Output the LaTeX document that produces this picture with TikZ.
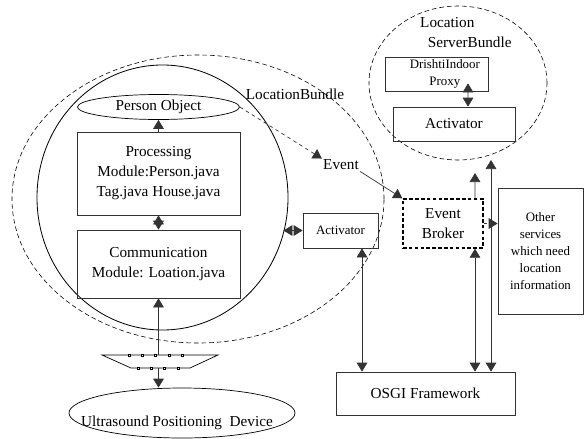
\documentclass[tikz,border=0pt]{standalone}
\usepackage{fontspec}
\setmainfont{Liberation Serif}
\usetikzlibrary{shapes.geometric,arrows.meta}

\begin{document}
\begin{tikzpicture}[x=0.03cm, y=-0.03cm, node distance=1cm, auto]
    % Define block styles
    \tikzstyle{block} = [rectangle, draw=black!80, line width=0.6pt, text centered, align=center, inner sep=0pt, font=\fontsize{13}{17}\selectfont]
    \tikzstyle{smallblock} = [block, font=\fontsize{11}{14.5}\selectfont]
    \tikzstyle{oval} = [ellipse, draw, line width=0.6pt, inner sep=0pt, font=\fontsize{13}{17}\selectfont]
    \tikzstyle{bundle} = [ellipse, draw, dash pattern=on 4pt off 2.5pt, line width=0.5pt]
    \tikzstyle{lbl} = [font=\fontsize{13}{17}\selectfont, inner sep=1pt]
    \tikzstyle{line} = [draw=black!80, line width=0.6pt, -{Triangle[length=0.27cm, width=0.32cm]}]
    \tikzstyle{both} = [line, {Triangle[length=0.27cm, width=0.32cm]}-{Triangle[length=0.27cm, width=0.32cm]}]

    \useasboundingbox (0,0) rectangle (584,438);

    % Bundles
    \node [bundle, minimum width=11.16cm, minimum height=8.64cm] (bundle) at (198,199) {};
    \node [oval, line width=0.7pt, minimum width=7.53cm, minimum height=7.95cm] (ring) at (162.5,197.5) {};
    \node [lbl] (bundlelbl) at (295,94) {LocationBundle};
    \node [bundle, minimum width=5.34cm, minimum height=4.62cm] (server) at (458,83) {};
    \node [lbl, anchor=north west, align=left, inner sep=0pt] (serverlbl) at (420,17) {Location\\\enspace ServerBundle};

    % Place nodes
    \node [block, minimum width=4.89cm, minimum height=2.49cm] (proc) at (158.5,173.5) {Processing\\Module:Person.java\\Tag.java House.java};
    \node [oval, above of=proc, node distance=1.995cm, minimum width=4.86cm, minimum height=0.75cm] (person) {Person Object};
    \node [block, below of=proc, node distance=2.715cm, minimum width=4.89cm, minimum height=2.04cm] (comm) {Communication\\Module: Loation.java};

    % Sensor
    \draw [line width=0.6pt] (102,355) -- (218,355) -- (190,368) -- (131,368) -- cycle;
    \foreach \x in {129,142,155,169,182}
        \draw [fill=white, line width=0.4pt] (\x-1.2,353.8) rectangle (\x+1.2,356.2);
    \foreach \x in {138,151,164,178}
        \draw [fill=white, line width=0.4pt] (\x-1.2,366.8) rectangle (\x+1.2,369.2);
    \coordinate (sensortop) at (158.5,355);
    \coordinate (sensorbot) at (158.5,368);

    \node [oval, minimum width=6.78cm, minimum height=1.5cm] (ultra) at (182,413) {};
    \node [lbl] (ultralbl) at (177,423) {Ultrasound Positioning\ \ Device};

    \node [smallblock, minimum width=2.25cm, minimum height=1.05cm] (actb) at (340.5,230.5) {Activator};
    \node [lbl] (event) at (341,165) {Event};
    \node [block, draw=black, line width=1.2pt, dash pattern=on 3pt off 2pt, minimum width=2.4cm, minimum height=1.47cm] (broker) at (443,223.5) {Event\\Broker};
    \node [smallblock, minimum width=2.55cm, minimum height=3.78cm] (others) at (540.5,251) {Other\\services\\which need\\location\\information};
    \node [smallblock, minimum width=3.09cm, minimum height=1.02cm] (proxy) at (436.5,74) {\hspace*{0.5cm}DrishtiIndoor\\\hspace*{0.5cm}Proxy};
    \node [block, below of=proxy, node distance=1.5cm, xshift=0.525cm, minimum width=3.66cm, minimum height=1.02cm] (actc) {Activator};
    \node [block, minimum width=5.37cm, minimum height=1.29cm] (osgi) at (425.5,393.5) {OSGI Framework};

    \coordinate (srvtip) at (475,173);
    \coordinate (srvtop) at (491,160);

    % Connectors
    \path [line] (proc) -- (person);
    \path [both] (proc) -- (comm);
    \path [line] (sensortop) -- (comm.south);
    \path [line] (sensorbot) -- (sensorbot |- ultra.north);
    \path [line, dashed] (person.east) -- (event.north west);
    \path [line] (event.south east) -- (broker.north west);
    \path [both] (actb.west) -- ([xshift=-0.15cm]ring.east |- actb.west);
    \path [line, dashed] (broker.east) -- (others.west |- broker.east);
    \path [both] ([xshift=0.945cm, yshift=0.24cm]proxy.south) -- ([xshift=0.42cm]actc.north);
    \path [both] ([xshift=0.645cm]actb.south) -- ([xshift=0.645cm]actb.south |- osgi.north);
    \path [both] ([xshift=0.96cm]broker.south) -- ([xshift=0.96cm]broker.south |- osgi.north);
    \path [line] ([xshift=0.96cm]broker.north) -- (srvtip);
    \path [both] (srvtop |- osgi.north) -- (srvtop);
\end{tikzpicture}
\end{document}
